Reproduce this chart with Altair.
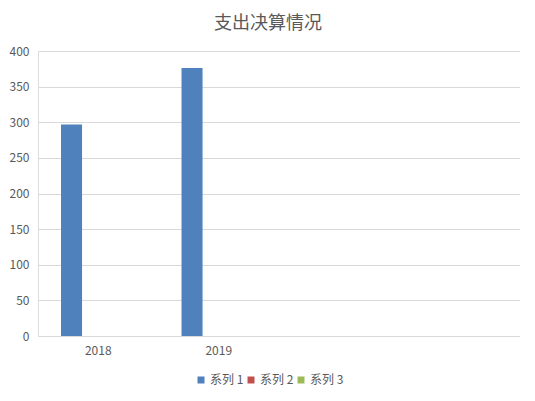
import altair as alt
import pandas as pd

categories = ["2018", "2019"]
x_domain = ["2018", "2019", " ", "  "]
series_names = ["系列 1", "系列 2", "系列 3"]
series1 = [297, 376]
series2 = [0, 0]
series3 = [0, 0]
colors = ["#4f81bd", "#c0504d", "#9bbb59"]
y_ticks = [0, 50, 100, 150, 200, 250, 300, 350, 400]

rows = []
for name, vals in zip(series_names, [series1, series2, series3]):
    for c, v in zip(categories, vals):
        rows.append({"cat": c, "series": name, "value": v})
df = pd.DataFrame(rows)

FONT = "Noto Sans CJK SC"
TXT = "#595959"
GRID = "#d9d9d9"

chart = alt.Chart(df).mark_bar().encode(
    x=alt.X("cat:N", sort=x_domain,
            scale=alt.Scale(domain=x_domain, paddingInner=0.382, paddingOuter=0.191),
            axis=alt.Axis(title=None, labelAngle=0, ticks=False, domainColor=GRID,
                          labelColor=TXT, labelFontSize=12, labelFont=FONT,
                          labelPadding=9, grid=False)),
    xOffset=alt.XOffset("series:N",
                        scale=alt.Scale(domain=series_names, paddingInner=0.2126, paddingOuter=0)),
    y=alt.Y("value:Q", scale=alt.Scale(domain=[0, 400], nice=False),
            axis=alt.Axis(values=y_ticks, title=None, ticks=False, domain=False,
                          gridColor=GRID, labelColor=TXT, labelFontSize=12,
                          labelFont=FONT, labelPadding=9)),
    color=alt.Color("series:N",
                    scale=alt.Scale(domain=series_names, range=colors),
                    legend=alt.Legend(title=None, orient="none", direction="horizontal",
                                      legendX=157, legendY=323, symbolType="square",
                                      symbolSize=49, symbolStrokeWidth=0,
                                      labelFontSize=12, labelFont=FONT, labelColor=TXT,
                                      labelOffset=3, columnPadding=1, padding=0)),
).properties(
    width=482,
    height=285,
    title=alt.TitleParams("支出决算情况", fontSize=18, color=TXT, fontWeight="normal",
                          font=FONT, anchor="middle", dx=-11, offset=12),
    autosize=alt.AutoSizeParams(type="none"),
    padding={"left": 30, "top": 43, "right": 0, "bottom": 60},
).configure_view(stroke=None).configure(background="white")

chart.save("out.html", embed_options={"renderer": "svg", "actions": False})
